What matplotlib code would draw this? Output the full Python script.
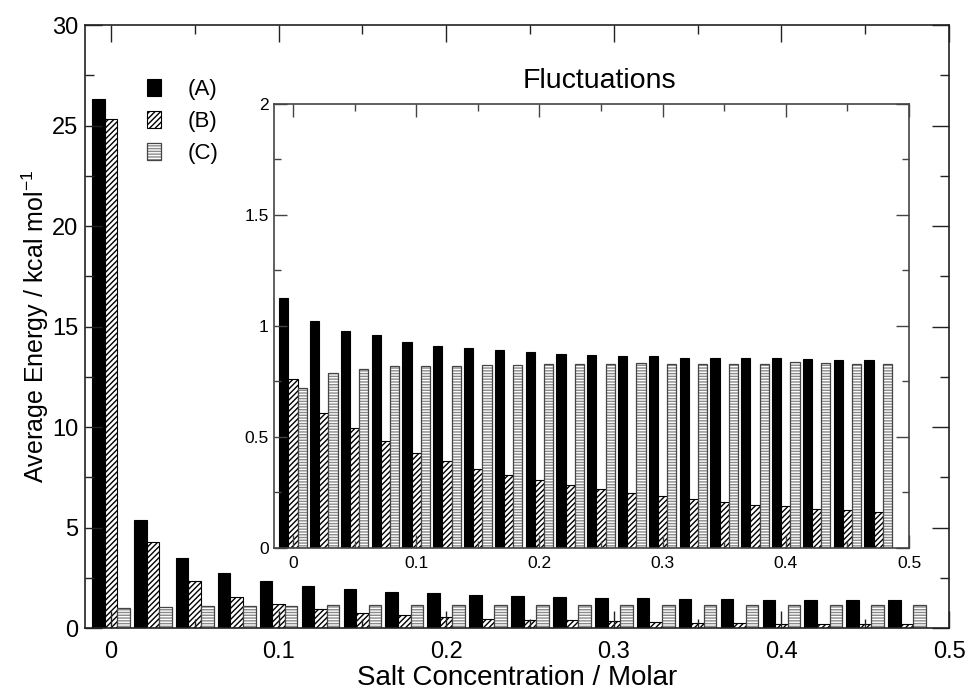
import numpy as np
import matplotlib
matplotlib.use("Agg")
import matplotlib.pyplot as plt
from matplotlib.ticker import MultipleLocator, FuncFormatter
from matplotlib.legend_handler import HandlerTuple

plt.rcParams['font.family'] = ['Liberation Sans', 'DejaVu Sans']
plt.rcParams['mathtext.default'] = 'regular'
plt.rcParams['hatch.linewidth'] = 1.0

# ---------------- data ----------------
conc = [0.0, 0.025, 0.05, 0.075, 0.1, 0.125, 0.15, 0.175, 0.2, 0.225,
        0.25, 0.275, 0.3, 0.325, 0.35, 0.375, 0.4, 0.425, 0.45, 0.475]

avg_A = [26.3, 5.40, 3.48, 2.74, 2.35, 2.12, 1.94, 1.82, 1.74, 1.66,
         1.61, 1.56, 1.52, 1.49, 1.46, 1.44, 1.41, 1.41, 1.39, 1.39]
avg_B = [25.35, 4.29, 2.35, 1.57, 1.19, 0.96, 0.76, 0.65, 0.56, 0.46,
         0.40, 0.43, 0.35, 0.31, 0.28, 0.25, 0.23, 0.21, 0.20, 0.19]
avg_C = [0.99, 1.08, 1.11, 1.11, 1.13, 1.14, 1.14, 1.14, 1.14, 1.14,
         1.14, 1.14, 1.14, 1.14, 1.14, 1.14, 1.14, 1.14, 1.14, 1.14]

fl_A = [1.125, 1.024, 0.979, 0.958, 0.929, 0.911, 0.901, 0.890, 0.883, 0.875,
        0.869, 0.866, 0.862, 0.857, 0.854, 0.853, 0.854, 0.850, 0.847, 0.847]
fl_B = [0.761, 0.607, 0.538, 0.479, 0.429, 0.392, 0.356, 0.329, 0.305, 0.282,
        0.264, 0.246, 0.231, 0.219, 0.206, 0.194, 0.186, 0.176, 0.168, 0.159]
fl_C = [0.718, 0.787, 0.805, 0.820, 0.820, 0.821, 0.823, 0.824, 0.826, 0.826,
        0.826, 0.832, 0.829, 0.829, 0.829, 0.829, 0.835, 0.832, 0.830, 0.829]

series_labels = ['(A)', '(B)', '(C)']

# ---------------- styles ----------------
W = 0.0075
styleA = dict(facecolor='black', edgecolor='black', linewidth=0.8)
styleB = dict(facecolor='white', edgecolor='black', hatch='//////', linewidth=0.8)
styleC_fill = dict(facecolor='white', edgecolor='#8a8a8a', hatch='------', linewidth=0)
styleC_edge = dict(facecolor='none', edgecolor='#444444', linewidth=0.9)

fmt = FuncFormatter(lambda v, p: '%g' % round(v, 6))


def draw_bars(axis, a, b, c):
    xx = np.array(conc)
    ha = axis.bar(xx - W, a, width=W, **styleA)
    hb = axis.bar(xx, b, width=W, **styleB)
    hc1 = axis.bar(xx + W, c, width=W, **styleC_fill)
    hc2 = axis.bar(xx + W, c, width=W, **styleC_edge)
    return ha, hb, (hc1, hc2)


fig = plt.figure(figsize=(9.71, 6.9), dpi=100)

# ---------------- main axes ----------------
ax = fig.add_axes([85 / 971, (690 - 628.3) / 690, 864 / 971, 603.3 / 690])
bA, bB, bC = draw_bars(ax, avg_A, avg_B, avg_C)
ax.set_xlim(-0.0155, 0.5)
ax.set_ylim(0, 30)
ax.xaxis.set_major_locator(MultipleLocator(0.1))
ax.xaxis.set_minor_locator(MultipleLocator(0.05))
ax.yaxis.set_major_locator(MultipleLocator(5))
ax.yaxis.set_minor_locator(MultipleLocator(2.5))
ax.xaxis.set_major_formatter(fmt)
ax.yaxis.set_major_formatter(fmt)
ax.tick_params(which='both', direction='in', top=True, right=True, width=1.0, color='#222222')
ax.tick_params(which='major', length=12)
ax.tick_params(which='minor', length=6.5)
ax.tick_params(axis='x', which='major', labelsize=17, pad=9.0)
ax.tick_params(axis='y', which='major', labelsize=17, pad=5.0)
for s in ax.spines.values():
    s.set_linewidth(1.2)
    s.set_color('#222222')

ax.set_xlabel('Salt Concentration / Molar', fontsize=20)
ax.xaxis.label.set_va('baseline')
ax.xaxis.set_label_coords(0.5, (628.3 - 685) / 603.3)
ax.set_ylabel('Average Energy / kcal mol$^{-1}$', fontsize=18)
ax.yaxis.set_label_coords((51 - 85) / 864, 0.5)

leg = ax.legend([bA, bB, bC], series_labels, loc='upper left',
                bbox_to_anchor=(147 / 971, (690 - 79) / 690),
                bbox_transform=fig.transFigure, frameon=False,
                fontsize=16, handlelength=0.63, handleheight=0.78,
                handletextpad=1.2, labelspacing=0.5, borderpad=0, borderaxespad=0,
                handler_map={tuple: HandlerTuple(ndivide=1, pad=0)})

# ---------------- inset ----------------
ins = fig.add_axes([274.3 / 971, (690 - 547.7) / 690, 634.7 / 971, 443.7 / 690])
draw_bars(ins, fl_A, fl_B, fl_C)
ins.set_xlim(-0.0152, 0.5)
ins.set_ylim(0, 2)
ins.xaxis.set_major_locator(MultipleLocator(0.1))
ins.xaxis.set_minor_locator(MultipleLocator(0.05))
ins.yaxis.set_major_locator(MultipleLocator(0.5))
ins.yaxis.set_minor_locator(MultipleLocator(0.25))
ins.xaxis.set_major_formatter(fmt)
ins.yaxis.set_major_formatter(fmt)
ins.tick_params(which='both', direction='in', top=True, right=True, width=1.0, color='#444444')
ins.tick_params(which='major', length=9.5)
ins.tick_params(which='minor', length=5)
ins.tick_params(axis='x', which='major', labelsize=12.5, pad=6.0)
ins.tick_params(axis='y', which='major', labelsize=12.5, pad=4.0)
for s in ins.spines.values():
    s.set_linewidth(1.2)
    s.set_color('#444444')

fig.text(599 / 971, (690 - 88) / 690, 'Fluctuations', fontsize=20.5,
         ha='center', va='baseline')

fig.savefig('out.png', dpi=100)
